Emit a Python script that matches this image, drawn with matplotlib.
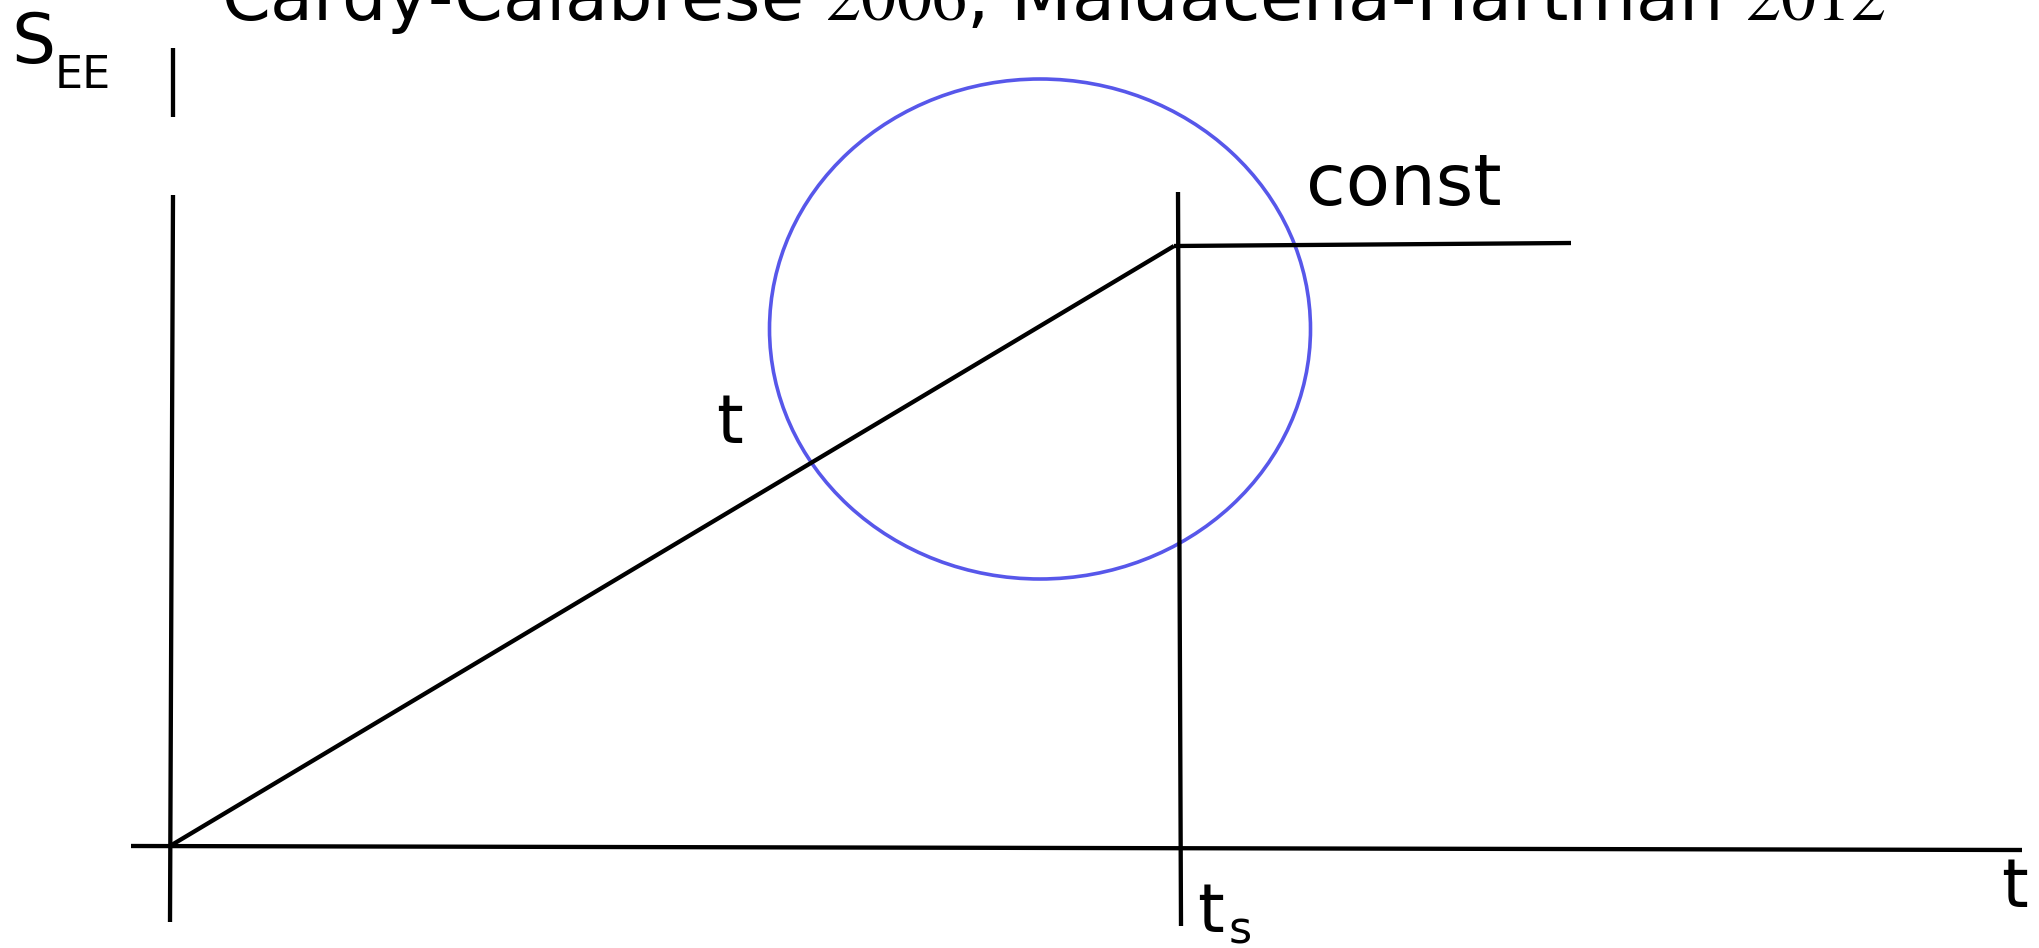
import matplotlib
matplotlib.use('Agg')
import matplotlib.pyplot as plt
from matplotlib.patches import Ellipse

plt.rcParams['mathtext.fontset'] = 'stix'

# sketch coordinates (pixel-like units, y grows downward)
axis_s_top_x = [173, 173]
axis_s_top_y = [48, 117]
axis_s_x = [173, 170]
axis_s_y = [195, 922]
axis_t_x = [131, 2022]
axis_t_y = [846, 850]
ramp_x = [170, 1174]
ramp_y = [846, 246]
plateau_x = [1174, 1571]
plateau_y = [246, 243]
ts_x = [1178, 1181]
ts_y = [192, 926]
circle_center = (1040, 329)
circle_w = 541
circle_h = 500

title = 'Cardy-Calabrese $2006$, Maldacena-Hartman $2012$'

fig = plt.figure(figsize=(20.39, 9.48), dpi=100)
ax = fig.add_axes([0, 0, 1, 1])
ax.set_xlim(0, 2039)
ax.set_ylim(948, 0)
ax.axis('off')

lw = 3.1
for xs, ys in [(axis_s_top_x, axis_s_top_y), (axis_s_x, axis_s_y), (axis_t_x, axis_t_y),
               (ramp_x, ramp_y), (plateau_x, plateau_y), (ts_x, ts_y)]:
    ax.plot(xs, ys, color='black', lw=lw, solid_capstyle='butt')

ax.add_patch(Ellipse(circle_center, circle_w, circle_h, fill=False,
                     edgecolor='#5757ea', lw=2.6))

ax.text(1054, 20, title, fontsize=50.5, ha='center', va='baseline')
ax.text(11, 63, 'S', fontsize=50, ha='left', va='baseline')
ax.text(55, 88, 'EE', fontsize=32, ha='left', va='baseline')
ax.text(1306, 205, 'const', fontsize=52, ha='left', va='baseline')
ax.text(716, 443, 't', fontsize=49, ha='left', va='baseline')
ax.text(1197, 932, 't', fontsize=49, ha='left', va='baseline')
ax.text(1229, 943, 's', fontsize=32, ha='left', va='baseline')
ax.text(2001, 907, 't', fontsize=49, ha='left', va='baseline')

fig.savefig('out.png', dpi=100)
